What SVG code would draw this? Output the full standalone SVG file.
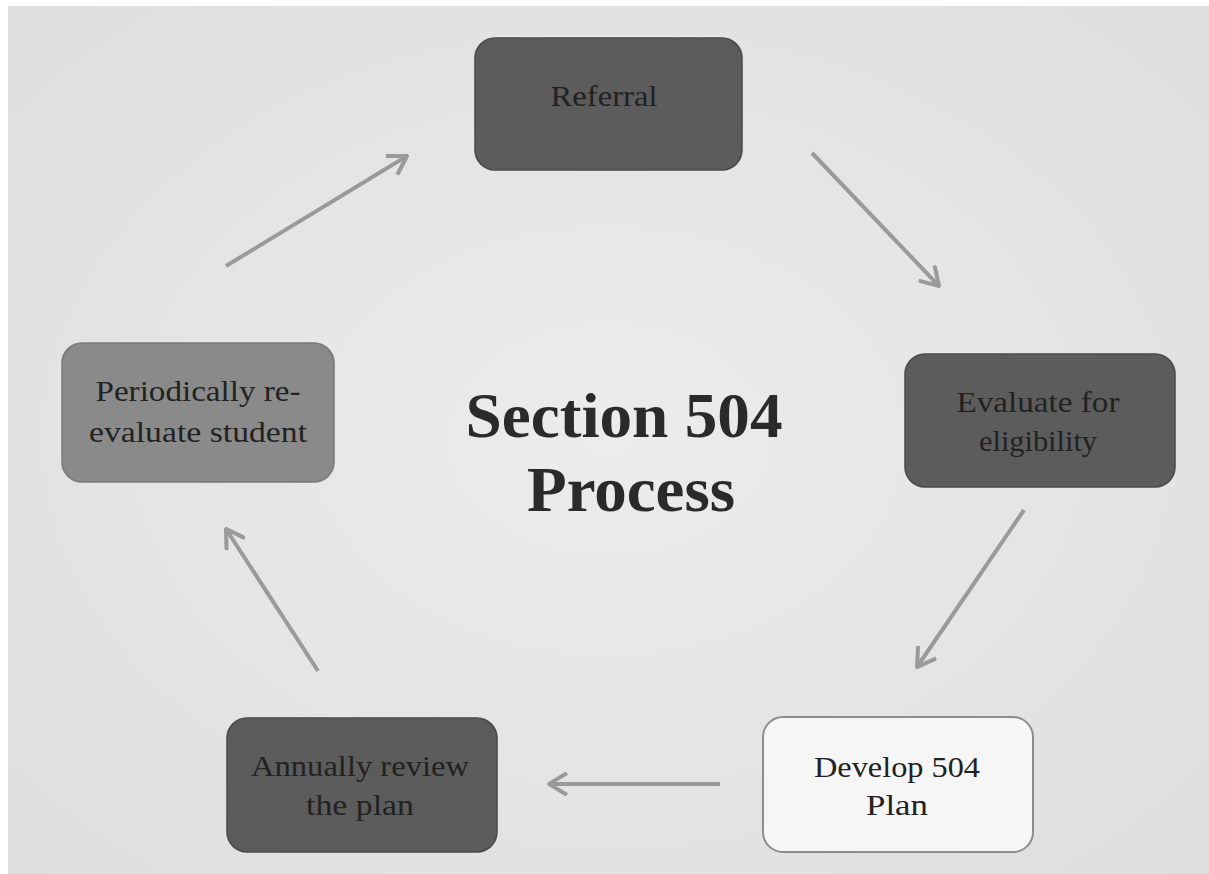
<svg xmlns="http://www.w3.org/2000/svg" width="1209" height="874" viewBox="0 0 1209 874">
<defs>
<radialGradient id="bg" cx="0.5" cy="0.5" r="0.7">
<stop offset="0" stop-color="#ececec"/>
<stop offset="1" stop-color="#dedede"/>
</radialGradient>
<marker id="ah" markerWidth="22" markerHeight="24" refX="20" refY="12" orient="auto" markerUnits="userSpaceOnUse" viewBox="0 0 22 24">
<path d="M2,1 L20,12 L2,23" fill="none" stroke="#9a9a9a" stroke-width="4" stroke-linejoin="miter"/>
</marker>
<style>
.box{stroke:#4a4a4a;stroke-width:1.5}
.dark{fill:#5c5c5c}
.mid{fill:#8a8a8a;stroke:#7a7a7a}
.light{fill:#f6f6f6;stroke:#8c8c8c;stroke-width:2}
.lbl{font-family:"Liberation Serif",serif;font-size:30px;fill:#222;text-anchor:middle}
.title{font-family:"Liberation Serif",serif;font-size:63px;font-weight:bold;fill:#2a2a2a;text-anchor:middle}
.conn line{stroke:#9a9a9a;stroke-width:4;marker-end:url(#ah)}
</style>
</defs>
<rect width="1209" height="874" fill="#ffffff"/>
<rect x="8" y="6" width="1201" height="868" fill="url(#bg)"/>
<g id="title">
<text class="title" x="624" y="437" textLength="317" lengthAdjust="spacingAndGlyphs">Section 504</text>
<text class="title" x="631" y="511" textLength="208" lengthAdjust="spacingAndGlyphs">Process</text>
</g>
<g id="connectors" class="conn">
<line x1="226" y1="266" x2="407" y2="156"/>
<line x1="812" y1="153" x2="939" y2="286"/>
<line x1="1024" y1="510" x2="917" y2="667"/>
<line x1="720" y1="784" x2="549" y2="784"/>
<line x1="318" y1="671" x2="226" y2="529"/>
</g>
<g id="referral">
<rect class="box dark" x="475" y="38" width="267" height="132" rx="20"/>
<text class="lbl" x="604" y="106" textLength="107" lengthAdjust="spacingAndGlyphs">Referral</text>
</g>
<g id="evaluate">
<rect class="box dark" x="905" y="354" width="270" height="133" rx="20"/>
<text class="lbl" x="1038" y="412" textLength="163" lengthAdjust="spacingAndGlyphs">Evaluate for</text>
<text class="lbl" x="1038" y="451" textLength="118" lengthAdjust="spacingAndGlyphs">eligibility</text>
</g>
<g id="develop">
<rect class="light" x="763" y="717" width="270" height="135" rx="20"/>
<text class="lbl" x="897" y="777" textLength="166" lengthAdjust="spacingAndGlyphs">Develop 504</text>
<text class="lbl" x="897" y="815" textLength="62" lengthAdjust="spacingAndGlyphs">Plan</text>
</g>
<g id="annually">
<rect class="box dark" x="227" y="718" width="270" height="134" rx="20"/>
<text class="lbl" x="360" y="776" textLength="218" lengthAdjust="spacingAndGlyphs">Annually review</text>
<text class="lbl" x="360" y="815" textLength="108" lengthAdjust="spacingAndGlyphs">the plan</text>
</g>
<g id="periodically">
<rect class="mid" x="62" y="343" width="272" height="139" rx="20" stroke-width="1.5"/>
<text class="lbl" x="198" y="401" textLength="205" lengthAdjust="spacingAndGlyphs">Periodically re-</text>
<text class="lbl" x="198" y="442" textLength="218" lengthAdjust="spacingAndGlyphs">evaluate student</text>
</g>
</svg>
